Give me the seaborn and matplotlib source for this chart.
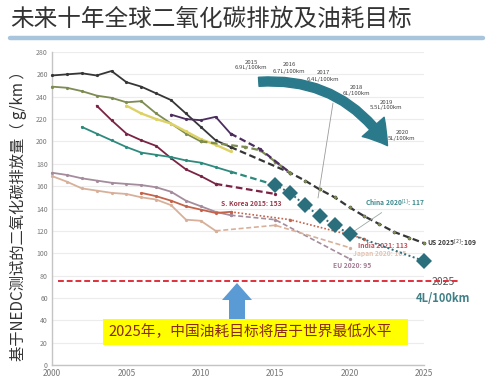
import numpy as np
import pandas as pd
import matplotlib
matplotlib.use("Agg")
import matplotlib.pyplot as plt
import seaborn as sns
from matplotlib.lines import Line2D
from matplotlib.patches import Rectangle, Polygon, FancyArrowPatch
from matplotlib.transforms import IdentityTransform

sns.set_theme(style="white")
plt.rcParams['font.family'] = ['Noto Sans CJK SC', 'DejaVu Sans']
plt.rcParams['axes.unicode_minus'] = False

# ---------------- data ----------------
title = "未来十年全球二氧化碳排放及油耗目标"
ylabel = "基于NEDC测试的二氧化碳排放量（ g/km ）"
banner = "2025年，中国油耗目标将居于世界最低水平"

yticks = list(range(0, 281, 20))
xticks = [2000, 2005, 2010, 2015, 2020, 2025]

us_years = list(range(2000, 2013))
us_vals = [259, 260, 261, 259, 263, 253, 249, 243, 237, 225, 213, 201, 195]
us_proj_years = [2012, 2016, 2017, 2018, 2019, 2020, 2021, 2022, 2023, 2024, 2025]
us_proj_vals = [195, 172, 165, 157, 150, 141, 133, 126, 119, 114, 109]

canada_years = list(range(2000, 2011))
canada_vals = [249, 248, 245, 241, 239, 235, 236, 225, 216, 207, 200]
canada_proj_years = [2010, 2013, 2014, 2015, 2016]
canada_proj_vals = [200, 195, 192, 182, 172]

yellow_years = list(range(2005, 2013))
yellow_vals = [232, 225, 220, 216, 209, 202, 197, 191]

mexico_years = list(range(2008, 2013))
mexico_vals = [224, 220, 219, 222, 207]
mexico_proj_years = [2012, 2014, 2016]
mexico_proj_vals = [207, 193, 172]

korea_years = list(range(2003, 2012))
korea_vals = [232, 219, 207, 201, 196, 185, 175, 169, 162]
korea_proj_years = [2011, 2015]
korea_proj_vals = [162, 153]

china_years = list(range(2002, 2013))
china_vals = [213, 207, 201, 195, 190, 188, 186, 183, 181, 177, 173]
china_proj_years = [2012, 2015]
china_proj_vals = [173, 161]
china_target_years = [2015, 2016, 2017, 2018, 2019, 2020, 2025]
china_target_vals = [161, 154, 143, 133, 125, 117, 93]

eu_years = list(range(2000, 2013))
eu_vals = [172, 170, 167, 165, 163, 162, 161, 159, 155, 147, 142, 137, 134]
eu_proj_years = [2012, 2015, 2020]
eu_proj_vals = [134, 130, 95]

japan_years = list(range(2000, 2012))
japan_vals = [169, 164, 158, 156, 154, 153, 150, 148, 143, 130, 129, 120]
japan_proj_years = [2011, 2015, 2020]
japan_proj_vals = [120, 125, 105]

india_years = list(range(2006, 2013))
india_vals = [154, 151, 147, 142, 139, 136, 137]
india_proj_years = [2012, 2016, 2021]
india_proj_vals = [137, 130, 113]

china_2025_target = 75

arrow_labels = [("2015", "6.9L/100km"), ("2016", "6.7L/100km"), ("2017", "6.4L/100km"),
                ("2018", "6L/100km"), ("2019", "5.5L/100km"), ("2020", "5L/100km")]

# ---------------- figure ----------------
W, H = 500, 392
fig = plt.figure(figsize=(W / 100, H / 100), dpi=100)
fig.patch.set_facecolor("white")

def fx(px):
    return px / W

def fy(py):
    return 1 - py / H

ax = fig.add_axes([fx(52), fy(365), (424 - 52) / W, (365 - 52) / H])
ax.set_facecolor("white")


def line(xs, ys, color, ls="-", lw=1.3, marker="o", ms=2.3, z=3):
    sns.lineplot(x=xs, y=ys, ax=ax, color=color, linestyle=ls, linewidth=lw,
                 marker=marker, markersize=ms, markeredgewidth=0, zorder=z)


C_US = "#363636"
C_CAN = "#7d8c52"
C_YEL = "#ddd266"
C_MEX = "#4b2d5e"
C_KOR = "#7b2344"
C_CHN = "#2e8a7c"
C_TGT = "#2b6e7c"
C_EU = "#a48c9c"
C_JPN = "#d8b09a"
C_IND = "#c4634a"

# historical solid lines
line(us_years, us_vals, C_US)
line(canada_years, canada_vals, C_CAN)
line(yellow_years, yellow_vals, C_YEL, lw=1.7)
line(mexico_years, mexico_vals, C_MEX)
line(korea_years, korea_vals, C_KOR)
line(china_years, china_vals, C_CHN)
line(eu_years, eu_vals, C_EU)
line(japan_years, japan_vals, C_JPN)
line(india_years, india_vals, C_IND)

# projections
line(us_proj_years, us_proj_vals, C_US, ls=(0, (3, 1.6)), lw=1.6, ms=2.6)
sns.lineplot(x=us_proj_years[1:], y=us_proj_vals[1:], ax=ax, color=C_CAN, linestyle="none",
             marker="o", markersize=2.2, markeredgewidth=0, zorder=4)
line(canada_proj_years, canada_proj_vals, C_CAN, ls=(0, (3, 1.6)), lw=1.6, ms=2.6)
line(mexico_proj_years, mexico_proj_vals, C_MEX, ls=(0, (3, 1.6)), lw=1.6, ms=2.4)
line(korea_proj_years, korea_proj_vals, C_KOR, ls=(0, (3, 1.6)), lw=1.6, ms=2.4)
line(china_proj_years, china_proj_vals, C_CHN, ls=(0, (3, 1.6)), lw=1.6, ms=2.4)
line(eu_proj_years, eu_proj_vals, C_EU, ls=(0, (3, 1.6)), lw=1.2, ms=2.4)
line(japan_proj_years, japan_proj_vals, C_JPN, ls=(0, (3, 1.6)), lw=1.2, ms=2.4)
line(india_proj_years, india_proj_vals, C_IND, ls=(0, (1, 1.2)), lw=1.2, ms=2.4)

# China targets (diamonds)
sns.lineplot(x=china_target_years, y=china_target_vals, ax=ax, color=C_TGT,
             linestyle=(0, (1, 1.3)), linewidth=1.4, marker="D", markersize=8.5,
             markeredgewidth=0, zorder=5)
for l in ax.lines:
    l.set_clip_on(False)

# target line 75 g/km
ax.axhline(china_2025_target, xmin=(58 - 52) / 372, xmax=(460 - 52) / 372, color="#e0303c",
           linestyle=(0, (3, 1.5)), linewidth=1.4, clip_on=False, zorder=6)
ax.text(fx(443), fy(282), "2025", transform=fig.transFigure, ha="center", va="center",
        fontsize=7.5, color="#555555", zorder=5)
ax.text(fx(443), fy(299), "4L/100km", transform=fig.transFigure, ha="center", va="center",
        fontsize=8, color="#3f7f86", fontweight="bold", zorder=5)

# axes styling
ax.set_xlim(2000, 2025)
ax.set_ylim(0, 280)
ax.set_yticks(yticks)
ax.set_xticks(xticks)
ax.set_yticklabels([str(v) for v in yticks], fontsize=5, color="#777777")
ax.set_xticklabels([str(v) for v in xticks], fontsize=6, color="#777777")
ax.tick_params(axis="both", length=0, pad=3)
ax.grid(axis="y", color="#ececec", linewidth=0.8)
ax.set_axisbelow(True)
for s in ["top", "right"]:
    ax.spines[s].set_visible(False)
for s in ["left", "bottom"]:
    ax.spines[s].set_color("#c4c4c4")
    ax.spines[s].set_linewidth(1.0)
ax.set_xlabel("")
ax.set_ylabel("")

# target labels
ann = dict(textcoords="offset points", fontsize=4.8, fontweight="bold", annotation_clip=False)
ax.annotate("S. Korea 2015: 153", xy=(korea_proj_years[-1], korea_proj_vals[-1]),
            xytext=(-17, -7), ha="center", va="center", color="#9a3a4c", **ann)
ax.annotate("China 2020$^{[1]}$: 117", xy=(2020, china_target_vals[5]), xytext=(11, 22),
            ha="left", va="center", color="#3f8a8e",
            arrowprops=dict(arrowstyle="-", color="#9aaaaa", lw=0.6, shrinkA=0, shrinkB=3), **ann)
ax.annotate("US 2025$^{[2]}$: 109", xy=(2025, us_proj_vals[-1]), xytext=(2, 0),
            ha="left", va="center", color="#3a3a3a", **ann)
ax.annotate("India 2021: 113", xy=(india_proj_years[-1], india_proj_vals[-1]), xytext=(-5, -5),
            ha="left", va="center", color="#c0505a", **ann)
ax.annotate("Japan 2020: 105", xy=(japan_proj_years[-1], japan_proj_vals[-1]), xytext=(2.5, -4),
            ha="left", va="center", color="#e4c4b4", **ann)
ax.annotate("EU 2020: 95", xy=(eu_proj_years[-1], eu_proj_vals[-1]), xytext=(1.5, -4.5),
            ha="center", va="center", color="#a47c92", **ann)

# title and rule
fig.text(fx(10), fy(19), title, fontsize=17, color="#333333", ha="left", va="center")
fig.add_artist(Line2D([fx(10), fx(483)], [fy(38), fy(38)], color="#a9c5de", linewidth=3.2))

# y label
fig.text(fx(18), fy(212), ylabel, rotation=90, fontsize=11, color="#333333",
         ha="center", va="center")

# curved teal arrow with year labels
arr = FancyArrowPatch((256, H - 82), (389, H - 148), transform=IdentityTransform(),
                      connectionstyle="arc3,rad=-0.3",
                      arrowstyle="simple,head_length=17,head_width=21,tail_width=6.5",
                      mutation_scale=1, color="#2b7a8b", zorder=4)
fig.add_artist(arr)
label_pos = [(251, 65), (289, 68), (323, 76), (356, 90.5), (386, 105), (402, 135.5)]
for (yr, fc), (px, py) in zip(arrow_labels, label_pos):
    fig.text(fx(px), fy(py), f"{yr}\n{fc}", fontsize=4.3, color="#444444",
             ha="center", va="center", linespacing=1.25)
fig.add_artist(Line2D([fx(333), fx(318)], [fy(103), fy(198)], color="#9a9a9a", linewidth=0.6))

# blue up arrow
arrow_pts = [(237, 283), (252, 300), (245, 300), (245, 319), (229, 319), (229, 300), (222, 300)]
fig.add_artist(Polygon([(fx(a), fy(b)) for a, b in arrow_pts], closed=True,
                       transform=fig.transFigure, facecolor="#5b9bd5", edgecolor="none", zorder=5))

# yellow banner
fig.add_artist(Rectangle((fx(103), fy(345)), (408 - 103) / W, (345 - 319) / H,
                         transform=fig.transFigure, facecolor="#ffff00", edgecolor="none", zorder=5))
fig.text(fx(108), fy(332), banner, fontsize=10.6, color="#8a2a12", ha="left", va="center", zorder=6)

fig.savefig("out.png", dpi=100, facecolor="white")
